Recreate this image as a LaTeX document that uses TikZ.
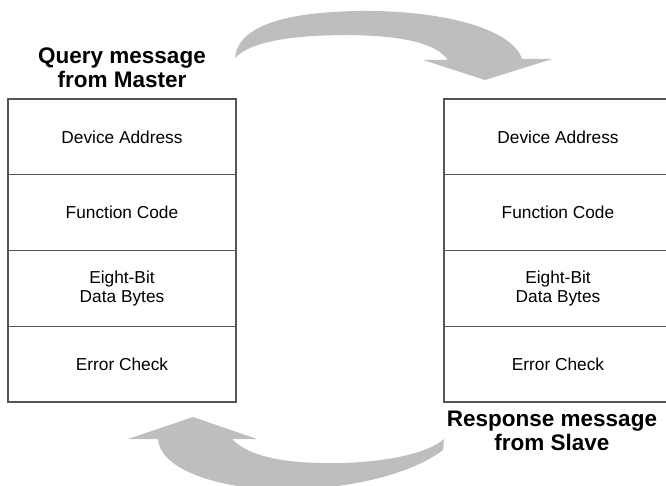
\documentclass[tikz,border=0pt]{standalone}
\usepackage{fontspec}
\setmainfont{Liberation Sans}
\definecolor{arrowgray}{RGB}{188,190,192}
\definecolor{boxline}{RGB}{85,85,85}
\tikzset{
  cell/.style={draw=boxline, line width=1.2pt, minimum width=228pt, minimum height=75.75pt,
    inner sep=0pt, align=center, font=\fontsize{17.3}{19.5}\selectfont},
  heading/.style={inner sep=0pt, align=center, font=\fontsize{22.5}{24}\selectfont\bfseries},
  bigarrow/.style={fill=arrowgray, draw=none}
}
\begin{document}
\begin{tikzpicture}[x=1pt,y=-1pt]
\useasboundingbox (0,0) rectangle (666,486);
% top arrow (master -> slave)
\path[bigarrow] (235,58) .. controls (237,30) and (275,12) .. (360,11)
  .. controls (440,10) and (512,28) .. (522,59)
  -- (552,59) -- (485,80) -- (423,60) -- (448,60)
  .. controls (435,42) and (400,36) .. (350,35)
  .. controls (290,35) and (250,42) .. (235,58) -- cycle;
% bottom arrow (slave -> master)
\path[bigarrow] (158,439) -- (128,439) -- (193,417) -- (257,439) -- (232,439)
  .. controls (250,458) and (290,464) .. (340,463)
  .. controls (390,462) and (430,452) .. (444,439)
  -- (443,450)
  .. controls (410,475) and (350,488) .. (290,490)
  .. controls (220,490) and (160,470) .. (158,439) -- cycle;
% left message
\node[heading] (qt) at (122,67.5) {Query message\\from Master};
\node[cell] (l1) at (122,136.9) {Device Address};
\node[cell] (l2) at (122,212.6) {Function Code};
\node[cell] (l3) at (122,288.4) {Eight-Bit\\Data Bytes};
\node[cell] (l4) at (122,364.1) {Error Check};
% right message
\node[cell] (r1) at (558,136.9) {Device Address};
\node[cell] (r2) at (558,212.6) {Function Code};
\node[cell] (r3) at (558,288.4) {Eight-Bit\\Data Bytes};
\node[cell] (r4) at (558,364.1) {Error Check};
\node[heading] (rt) at (552,430.5) {Response message\\from Slave};
\end{tikzpicture}
\end{document}
